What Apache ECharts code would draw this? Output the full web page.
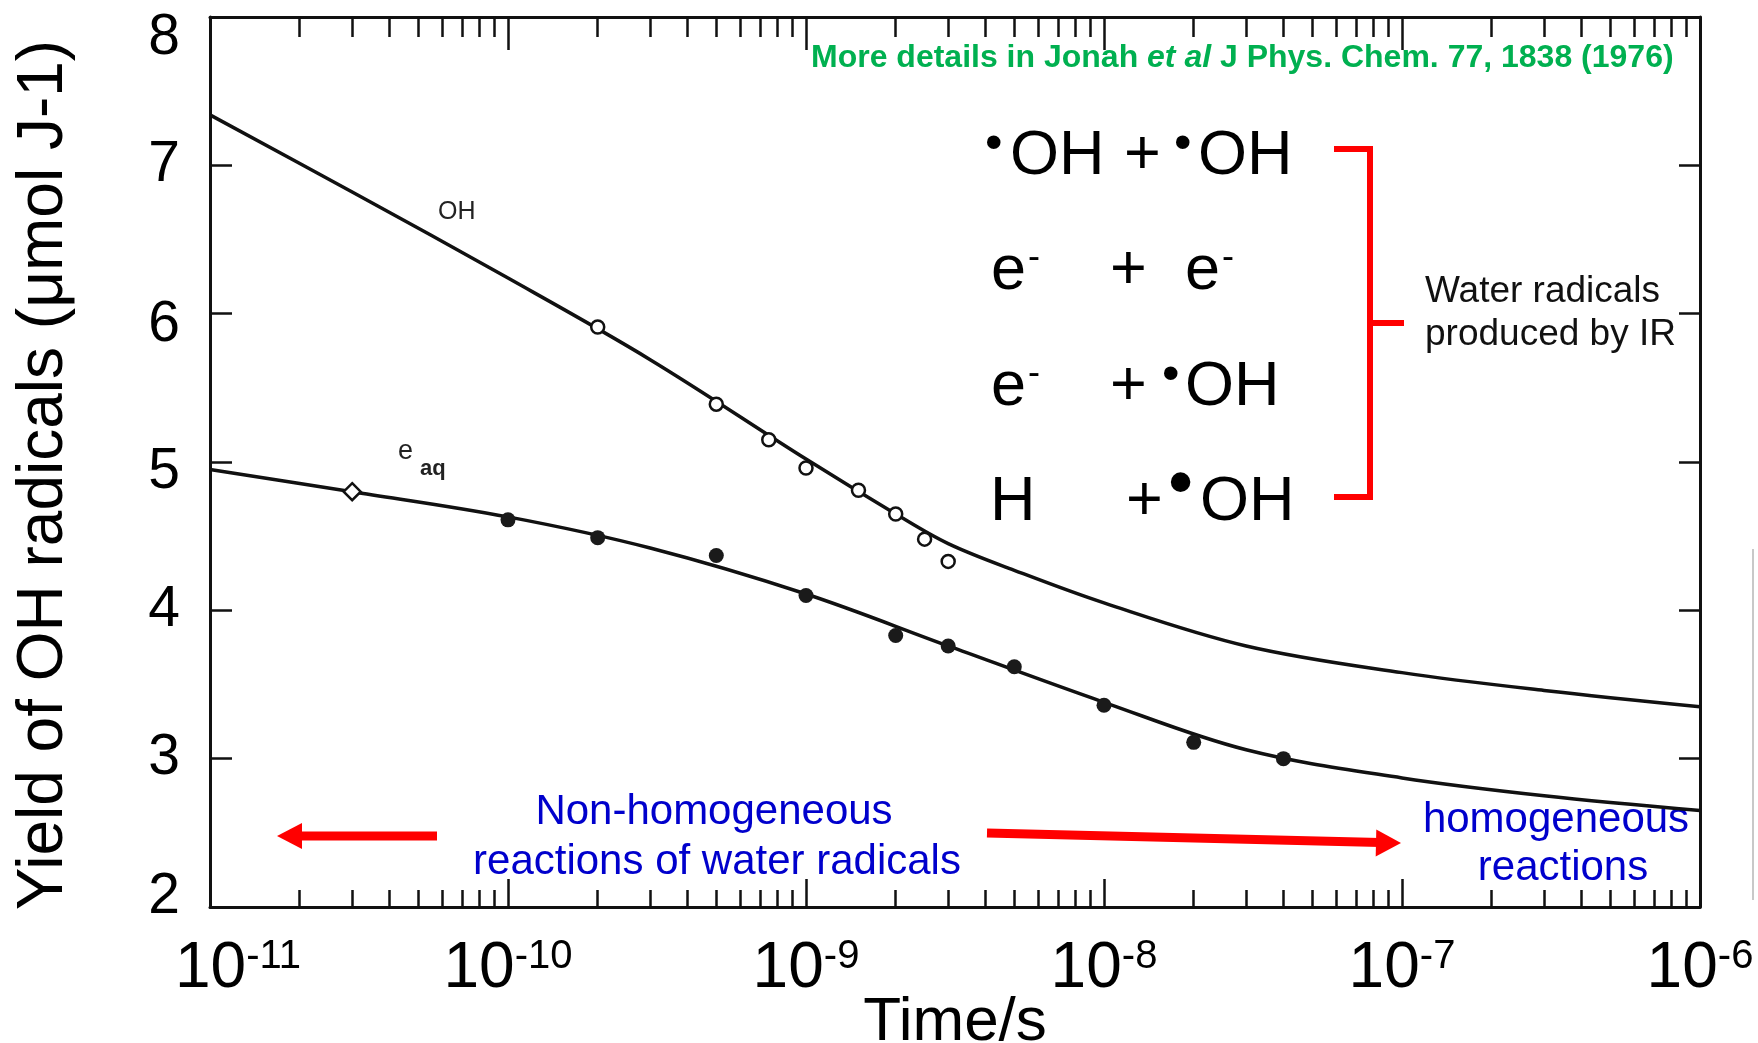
<!DOCTYPE html>
<html>
<head>
<meta charset="utf-8">
<title>Yield of OH radicals</title>
<script src="https://cdn.jsdelivr.net/npm/echarts@6.0.0/dist/echarts.min.js"></script>
<style>
  html, body { margin: 0; padding: 0; background: #fff; }
  #chart { width: 1758px; height: 1043px; }
</style>
</head>
<body>
<div id="chart"></div>
<script>
'use strict';

// 时间轴用 log10(t) 画，t 单位 s
var decadeTicks = [-11, -10, -9, -8, -7, -6];
var minorMultipliers = [2, 3, 4, 5, 6, 7, 8, 9];
var yTicks = [2, 3, 4, 5, 6, 7, 8];

// OH 拟合曲线
var ohCurveT = [1e-11, 3e-11, 1e-10, 3e-10, 1e-9, 2e-9, 3e-9, 5e-9, 1e-8, 3e-8, 1e-7, 3e-7, 1e-6];
var ohCurveY = [7.34, 6.82, 6.24, 5.69, 5.02, 4.65, 4.45, 4.27, 4.05, 3.76, 3.58, 3.46, 3.35];

// OH 实验点（空心圆）
var ohPointT = [2e-10, 5e-10, 7.5e-10, 1e-9, 1.5e-9, 2e-9, 2.5e-9, 3e-9];
var ohPointY = [5.91, 5.39, 5.15, 4.96, 4.81, 4.65, 4.48, 4.33];

// e(aq) 拟合曲线
var eaqCurveT = [1e-11, 3e-11, 1e-10, 3e-10, 1e-9, 3e-9, 1e-8, 3e-8, 1e-7, 3e-7, 1e-6];
var eaqCurveY = [4.95, 4.80, 4.63, 4.42, 4.11, 3.76, 3.38, 3.06, 2.87, 2.75, 2.65];

// e(aq) 实验点（实心圆）
var eaqPointT = [1e-10, 2e-10, 5e-10, 1e-9, 2e-9, 3e-9, 5e-9, 1e-8, 2e-8, 4e-8];
var eaqPointY = [4.61, 4.49, 4.37, 4.10, 3.83, 3.76, 3.62, 3.36, 3.11, 3.00];

// 菱形点
var diamondT = [3e-11];
var diamondY = [4.80];

var FONT = '"Liberation Sans", Arial, Helvetica, sans-serif';
var INK = '#111';

function toXY(ts, ys) {
  var out = [];
  for (var i = 0; i < ts.length; i++) {
    out.push([Math.log10(ts[i]), ys[i]]);
  }
  return out;
}

var minorTicks = [];
for (var d = 0; d < decadeTicks.length - 1; d++) {
  for (var m = 0; m < minorMultipliers.length; m++) {
    minorTicks.push(decadeTicks[d] + Math.log10(minorMultipliers[m]));
  }
}

function xAxisBase(pos) {
  return {
    type: 'value',
    position: pos,
    min: decadeTicks[0],
    max: decadeTicks[decadeTicks.length - 1],
    interval: 1,
    splitLine: { show: false },
    axisLine: { show: false },
    axisTick: { show: false },
    axisLabel: { show: false }
  };
}

// 底部主刻度 + 标签
var xMainBottom = xAxisBase('bottom');
xMainBottom.axisLine = { show: true, onZero: false, lineStyle: { color: INK, width: 3 } };
xMainBottom.axisTick = { show: true, inside: true, length: 28, lineStyle: { color: INK, width: 2.5 } };
xMainBottom.axisLabel = {
  show: true,
  margin: 30,
  formatter: function(v) {
    var e = Math.round(v);
    if (e === -11) return '{b1|10}{s|' + e + '}';
    return '{b|10}{s|' + e + '}';
  },
  rich: {
    b: { fontFamily: FONT, fontSize: 64, color: '#000', lineHeight: 64 },
    b1: { fontFamily: FONT, fontSize: 64, color: '#000', lineHeight: 64, padding: [0, 0, 0, 56] },
    s: { fontFamily: FONT, fontSize: 40, color: '#000', lineHeight: 22, verticalAlign: 'top' }
  }
};
xMainBottom.name = 'Time/s';
xMainBottom.nameLocation = 'middle';
xMainBottom.nameGap = 85;
xMainBottom.nameMoveOverlap = false;
xMainBottom.nameTextStyle = { fontFamily: FONT, fontSize: 62, color: '#000', lineHeight: 62 };

var xMinorBottom = xAxisBase('bottom');
xMinorBottom.axisTick = { show: true, inside: true, length: 17, customValues: minorTicks, lineStyle: { color: INK, width: 2.5 } };

var xMainTop = xAxisBase('top');
xMainTop.axisLine = { show: true, onZero: false, lineStyle: { color: INK, width: 3 } };
xMainTop.axisTick = { show: true, inside: true, length: 33, lineStyle: { color: INK, width: 2.5 } };

var xMinorTop = xAxisBase('top');
xMinorTop.axisTick = { show: true, inside: true, length: 20, customValues: minorTicks, lineStyle: { color: INK, width: 2.5 } };

// 扫描原图里个别 y 标签有偏移
var yLabelShift = { 8: 21, 6: 12, 5: 10, 2: -10 };
var yRich = {};
for (var k = 0; k < yTicks.length; k++) {
  var sh = yLabelShift[yTicks[k]] || 0;
  yRich['v' + yTicks[k]] = {
    fontFamily: FONT, fontSize: 57, color: '#000', lineHeight: 57,
    padding: sh >= 0 ? [sh * 2, 0, 0, 0] : [0, 0, -sh * 2, 0]
  };
}

var chart = echarts.init(document.getElementById('chart'));

var option = {
  backgroundColor: '#fff',
  animation: false,
  grid: {
    left: 210,
    right: 58,
    top: 17,
    bottom: 136,
    containLabel: false,
    outerBoundsMode: 'none'
  },
  xAxis: [xMainBottom, xMinorBottom, xMainTop, xMinorTop],
  yAxis: [
    {
      type: 'value',
      position: 'left',
      min: yTicks[0],
      max: yTicks[yTicks.length - 1],
      interval: 1,
      splitLine: { show: false },
      axisLine: { show: true, onZero: false, lineStyle: { color: INK, width: 3 } },
      axisTick: { show: true, inside: true, length: 22, lineStyle: { color: INK, width: 2.5 } },
      axisLabel: {
        margin: 30,
        formatter: function(v) { return '{v' + v + '|' + v + '}'; },
        rich: yRich
      },
      name: 'Yield of OH radicals (\u03bcmol J-1)',
      nameLocation: 'middle',
      nameRotate: 90,
      nameGap: 134,
      nameMoveOverlap: false,
      nameTextStyle: { fontFamily: FONT, fontSize: 64, color: '#000', lineHeight: 64, padding: [0, 26, 0, 0] }
    },
    {
      type: 'value',
      position: 'right',
      min: yTicks[0],
      max: yTicks[yTicks.length - 1],
      interval: 1,
      splitLine: { show: false },
      axisLine: { show: true, onZero: false, lineStyle: { color: INK, width: 3 } },
      axisTick: { show: true, inside: true, length: 21, lineStyle: { color: INK, width: 2.5 } },
      axisLabel: { show: false }
    }
  ],
  series: [
    {
      name: 'OH',
      type: 'line',
      data: toXY(ohCurveT, ohCurveY),
      smooth: 0.35,
      showSymbol: false,
      silent: true,
      lineStyle: { color: INK, width: 3.5 },
      z: 2
    },
    {
      name: 'eaq',
      type: 'line',
      data: toXY(eaqCurveT, eaqCurveY),
      smooth: 0.35,
      showSymbol: false,
      silent: true,
      lineStyle: { color: INK, width: 3.5 },
      z: 2
    },
    {
      name: 'OH points',
      type: 'scatter',
      data: toXY(ohPointT, ohPointY),
      symbol: 'circle',
      symbolSize: 13,
      itemStyle: { color: '#fff', borderColor: INK, borderWidth: 2.5, opacity: 1 },
      z: 3
    },
    {
      name: 'eaq points',
      type: 'scatter',
      data: toXY(eaqPointT, eaqPointY),
      symbol: 'circle',
      symbolSize: 15,
      itemStyle: { color: '#1a1a1a', opacity: 1 },
      z: 3
    },
    {
      name: 'eaq diamond',
      type: 'scatter',
      data: toXY(diamondT, diamondY),
      symbol: 'diamond',
      symbolSize: 17,
      itemStyle: { color: '#fff', borderColor: INK, borderWidth: 2.5, opacity: 1 },
      z: 3
    }
  ],
  graphic: [
    // 曲线标注
    { type: 'text', x: 438, y: 212, style: { text: 'OH', fill: '#222', fontFamily: FONT, fontSize: 25, align: 'left', verticalAlign: 'middle' } },
    { type: 'text', x: 398, y: 452, style: { text: 'e', fill: '#222', fontFamily: FONT, fontSize: 27, align: 'left', verticalAlign: 'middle' } },
    { type: 'text', x: 420, y: 469, style: { text: 'aq', fill: '#222', fontFamily: FONT, fontSize: 22, fontWeight: 'bold', align: 'left', verticalAlign: 'middle' } },

    // 文献
    {
      type: 'text', x: 811, y: 58,
      style: {
        text: '{n|More details in Jonah }{i|et al}{n| J Phys. Chem. 77, 1838 (1976)}',
        align: 'left', verticalAlign: 'middle',
        rich: {
          n: { fontFamily: FONT, fontSize: 32, fontWeight: 'bold', fill: '#00b050' },
          i: { fontFamily: FONT, fontSize: 32, fontWeight: 'bold', fontStyle: 'italic', fill: '#00b050' }
        }
      }
    },

    // 反应式
    { type: 'text', x: 985, y: 145, style: { text: '\u2022', fill: '#000', fontFamily: FONT, fontSize: 50, verticalAlign: 'middle' } },
    { type: 'text', x: 1010, y: 157, style: { text: 'OH', fill: '#000', fontFamily: FONT, fontSize: 63, verticalAlign: 'middle' } },
    { type: 'text', x: 1124, y: 157, style: { text: '+', fill: '#000', fontFamily: FONT, fontSize: 63, verticalAlign: 'middle' } },
    { type: 'text', x: 1174, y: 145, style: { text: '\u2022', fill: '#000', fontFamily: FONT, fontSize: 50, verticalAlign: 'middle' } },
    { type: 'text', x: 1198, y: 157, style: { text: 'OH', fill: '#000', fontFamily: FONT, fontSize: 63, verticalAlign: 'middle' } },

    { type: 'text', x: 991, y: 272, style: { text: 'e', fill: '#000', fontFamily: FONT, fontSize: 63, verticalAlign: 'middle' } },
    { type: 'text', x: 1028, y: 258, style: { text: '-', fill: '#000', fontFamily: FONT, fontSize: 36, verticalAlign: 'middle' } },
    { type: 'text', x: 1110, y: 272, style: { text: '+', fill: '#000', fontFamily: FONT, fontSize: 63, verticalAlign: 'middle' } },
    { type: 'text', x: 1185, y: 272, style: { text: 'e', fill: '#000', fontFamily: FONT, fontSize: 63, verticalAlign: 'middle' } },
    { type: 'text', x: 1222, y: 258, style: { text: '-', fill: '#000', fontFamily: FONT, fontSize: 36, verticalAlign: 'middle' } },

    { type: 'text', x: 991, y: 388, style: { text: 'e', fill: '#000', fontFamily: FONT, fontSize: 63, verticalAlign: 'middle' } },
    { type: 'text', x: 1028, y: 374, style: { text: '-', fill: '#000', fontFamily: FONT, fontSize: 36, verticalAlign: 'middle' } },
    { type: 'text', x: 1110, y: 388, style: { text: '+', fill: '#000', fontFamily: FONT, fontSize: 63, verticalAlign: 'middle' } },
    { type: 'text', x: 1162, y: 376, style: { text: '\u2022', fill: '#000', fontFamily: FONT, fontSize: 50, verticalAlign: 'middle' } },
    { type: 'text', x: 1185, y: 388, style: { text: 'OH', fill: '#000', fontFamily: FONT, fontSize: 63, verticalAlign: 'middle' } },

    { type: 'text', x: 990, y: 503, style: { text: 'H', fill: '#000', fontFamily: FONT, fontSize: 63, verticalAlign: 'middle' } },
    { type: 'text', x: 1126, y: 503, style: { text: '+', fill: '#000', fontFamily: FONT, fontSize: 63, verticalAlign: 'middle' } },
    { type: 'text', x: 1168, y: 486, style: { text: '\u2022', fill: '#000', fontFamily: FONT, fontSize: 72, verticalAlign: 'middle' } },
    { type: 'text', x: 1200, y: 503, style: { text: 'OH', fill: '#000', fontFamily: FONT, fontSize: 63, verticalAlign: 'middle' } },

    // 红色括号
    { type: 'polyline', shape: { points: [[1334, 149], [1370, 149], [1370, 497], [1334, 497]] }, style: { stroke: '#ff0000', lineWidth: 6, fill: null } },
    { type: 'line', shape: { x1: 1370, y1: 323, x2: 1404, y2: 323 }, style: { stroke: '#ff0000', lineWidth: 6 } },
    { type: 'text', x: 1425, y: 292, style: { text: 'Water radicals', fill: '#111', fontFamily: FONT, fontSize: 37, verticalAlign: 'middle' } },
    { type: 'text', x: 1425, y: 335, style: { text: 'produced by IR', fill: '#111', fontFamily: FONT, fontSize: 37, verticalAlign: 'middle' } },

    // 蓝色说明
    { type: 'text', x: 714, y: 812, style: { text: 'Non-homogeneous', fill: '#0000cc', fontFamily: FONT, fontSize: 42, align: 'center', verticalAlign: 'middle' } },
    { type: 'text', x: 717, y: 862, style: { text: 'reactions of water radicals', fill: '#0000cc', fontFamily: FONT, fontSize: 42, align: 'center', verticalAlign: 'middle' } },
    { type: 'text', x: 1556, y: 820, style: { text: 'homogeneous', fill: '#0000cc', fontFamily: FONT, fontSize: 42, align: 'center', verticalAlign: 'middle' } },
    { type: 'text', x: 1563, y: 868, style: { text: 'reactions', fill: '#0000cc', fontFamily: FONT, fontSize: 42, align: 'center', verticalAlign: 'middle' } },

    // 红色箭头
    { type: 'line', shape: { x1: 437, y1: 836, x2: 298, y2: 836 }, style: { stroke: '#ff0000', lineWidth: 9 } },
    { type: 'polygon', shape: { points: [[277, 836], [302, 823], [302, 849]] }, style: { fill: '#ff0000' } },
    { type: 'line', shape: { x1: 987, y1: 833, x2: 1380, y2: 842.5 }, style: { stroke: '#ff0000', lineWidth: 9 } },
    { type: 'polygon', shape: { points: [[1401, 843], [1376.3, 829.4], [1375.7, 856.4]] }, style: { fill: '#ff0000' } },

    // 右侧灰边
    { type: 'line', shape: { x1: 1753, y1: 549, x2: 1753, y2: 900 }, style: { stroke: '#c8c8c8', lineWidth: 2 } }
  ]
};

chart.setOption(option);
window.onresize = chart.resize;
</script>
</body>
</html>
